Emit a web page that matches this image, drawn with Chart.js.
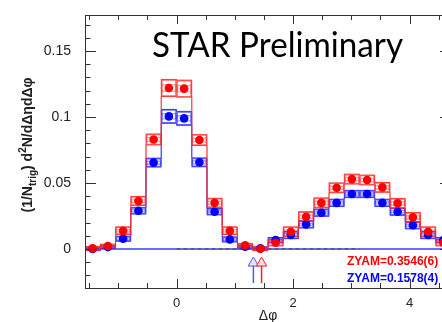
<!DOCTYPE html>
<html>
<head>
<meta charset="utf-8">
<script src="https://cdn.jsdelivr.net/npm/chart.js@4.4.1/dist/chart.umd.min.js"></script>
<style>
  html, body { margin: 0; padding: 0; overflow: hidden; background: #fff; }
  #wrap { position: relative; width: 470px; height: 322px; }
</style>
</head>
<body>
<div id="wrap"><canvas id="chart" width="470" height="322"></canvas></div>
<script>
// delta-phi bin centres, 24 bins of pi/12 from -pi/2 to 3pi/2
const binCenters = [-1.440, -1.178, -0.916, -0.654, -0.393, -0.131, 0.131, 0.393, 0.654, 0.916, 1.178, 1.440,
                    1.702, 1.963, 2.225, 2.487, 2.749, 3.011, 3.272, 3.534, 3.796, 4.058, 4.320, 4.581];
const binWidth = 0.2618;

const redValues = [0.0005, 0.0023, 0.0139, 0.0364, 0.0830, 0.1220, 0.1215, 0.0826, 0.0350, 0.0139, 0.0028, 0.0002,
                   0.0048, 0.0131, 0.0245, 0.0350, 0.0464, 0.0530, 0.0523, 0.0467, 0.0346, 0.0240, 0.0131, 0.0048];
const blueValues = [0.0000, 0.0015, 0.0078, 0.0290, 0.0655, 0.1005, 0.0990, 0.0657, 0.0283, 0.0073, 0.0018, 0.0005,
                    0.0068, 0.0106, 0.0187, 0.0275, 0.0350, 0.0417, 0.0417, 0.0350, 0.0283, 0.0180, 0.0106, 0.0068];
// systematic half-heights (boxes)
const redSys = [0.0015, 0.0015, 0.0030, 0.0035, 0.0042, 0.0065, 0.0065, 0.0042, 0.0035, 0.0030, 0.0015, 0.0015,
                0.0025, 0.0038, 0.0038, 0.0038, 0.0038, 0.0038, 0.0038, 0.0038, 0.0038, 0.0038, 0.0038, 0.0025];
const blueSys = [0.0012, 0.0012, 0.0020, 0.0025, 0.0034, 0.0053, 0.0053, 0.0034, 0.0025, 0.0020, 0.0012, 0.0012,
                 0.0020, 0.0028, 0.0028, 0.0028, 0.0028, 0.0028, 0.0028, 0.0028, 0.0028, 0.0028, 0.0028, 0.0020];

const zyamLabels = ['ZYAM=0.3546(6)', 'ZYAM=0.1578(4)'];
const arrowX = [1.46, 1.32];          // red, blue ZYAM range markers
const arrowShaft = [-0.0129, -0.0258];
const arrowHead = -0.0106;
const dashedRange = [0, 3.14];

const xMin = -1.5708, xMax = 4.7124;
const yMin = -0.0295, yMax = 0.1773;

const edges = binCenters.map(c => c - binWidth / 2).concat([binCenters[binCenters.length - 1] + binWidth / 2]);

function boxes(vals, sys, k) {
    return binCenters.map((c, i) => ({ x: c, y: [vals[i] - sys[i] * k, vals[i] + sys[i] * k] }));
}
// step outline: point at edge i carries bin i, held until edge i+1 ('before' stepping)
function steps(vals, sys, sign) {
    return edges.map((e, i) => {
        const j = Math.min(i, vals.length - 1);
        return { x: e, y: vals[j] + sign * sys[j] };
    });
}
function points(vals) {
    return binCenters.map((c, i) => ({ x: c, y: vals[i] }));
}

const RED = '#ff0000', BLUE = '#0000ff';
const RED_BOX = 'rgba(255,40,40,0.7)', BLUE_BOX = 'rgba(40,40,255,0.7)';

function boxSet(data, color, order) {
    return {
        type: 'bar', data: data, backgroundColor: 'rgba(0,0,0,0)', borderColor: color,
        borderWidth: 1, borderSkipped: false, grouped: false,
        barPercentage: 1, categoryPercentage: 1, order: order
    };
}
function stepSet(data, color, order) {
    return {
        type: 'line', data: data, borderColor: color, borderWidth: 1, stepped: 'before',
        pointRadius: 0, fill: false, order: order
    };
}

const datasets = [
    { type: 'line', data: points(redValues), showLine: false, pointRadius: 4.3, pointBackgroundColor: RED,
      pointBorderColor: RED, pointBorderWidth: 0, order: 0 },
    { type: 'line', data: points(blueValues), showLine: false, pointRadius: 4.3, pointBackgroundColor: BLUE,
      pointBorderColor: BLUE, pointBorderWidth: 0, order: 1 },
    boxSet(boxes(redValues, redSys, 1), RED_BOX, 3),
    boxSet(boxes(redValues, redSys, 0.45), 'rgba(255,40,40,0.4)', 3),
    stepSet(steps(redValues, redSys, 1), RED_BOX, 3),
    stepSet(steps(redValues, redSys, -1), RED_BOX, 3),
    boxSet(boxes(blueValues, blueSys, 1), BLUE_BOX, 4),
    boxSet(boxes(blueValues, blueSys, 0.45), 'rgba(40,40,255,0.4)', 4),
    stepSet(steps(blueValues, blueSys, 1), BLUE_BOX, 4),
    stepSet(steps(blueValues, blueSys, -1), BLUE_BOX, 4),
    { type: 'line', data: dashedRange.map(v => ({ x: v, y: 0 })), borderColor: '#444', borderWidth: 1,
      borderDash: [4, 3], pointRadius: 0, order: 5 },
    { type: 'line', data: [{ x: xMin, y: 0 }, { x: xMax, y: 0 }], borderColor: '#3d3dff', borderWidth: 1.5,
      pointRadius: 0, order: 6 }
];

// ZYAM arrows
arrowX.forEach((ax, i) => {
    const col = i === 0 ? '#ff2020' : '#5555ff';
    const fillCol = i === 0 ? 'rgba(255,215,215,0.9)' : 'rgba(225,225,255,0.9)';
    datasets.push({ type: 'line', data: arrowShaft.map(v => ({ x: ax, y: v })), borderColor: col,
        borderWidth: 1.5, pointRadius: 0, order: 2 });
    datasets.push({ type: 'line', data: [{ x: ax, y: arrowHead }], showLine: false, pointStyle: 'triangle',
        pointRadius: 6, pointBackgroundColor: fillCol, pointBorderColor: col, pointBorderWidth: 1, order: 2 });
});

const decorations = {
    id: 'decorations',
    afterDatasetsDraw(chart) {
        const { ctx, chartArea: a, scales: { x, y } } = chart;
        ctx.save();
        // frame + inward ticks (ROOT style)
        ctx.strokeStyle = '#333';
        ctx.lineWidth = 1;
        ctx.strokeRect(a.left + 0.5, a.top + 0.5, a.right - a.left, a.bottom - a.top);
        ctx.beginPath();
        x.ticks.forEach(t => {
            const px = Math.round(x.getPixelForValue(t.value)) + 0.5;
            const len = t.label ? 9 : 5;
            ctx.moveTo(px, a.bottom); ctx.lineTo(px, a.bottom - len);
            ctx.moveTo(px, a.top); ctx.lineTo(px, a.top + len);
        });
        y.ticks.forEach(t => {
            const py = Math.round(y.getPixelForValue(t.value)) + 0.5;
            const len = t.label ? 11 : 5.5;
            ctx.moveTo(a.left, py); ctx.lineTo(a.left + len, py);
            ctx.moveTo(a.right, py); ctx.lineTo(a.right - len, py);
        });
        ctx.stroke();

        // ZYAM labels
        ctx.font = 'bold 12px "Liberation Sans", Arial, sans-serif';
        ctx.textBaseline = 'alphabetic';
        ctx.textAlign = 'left';
        ctx.fillStyle = RED;
        ctx.fillText(zyamLabels[0], 347, 265);
        ctx.fillStyle = BLUE;
        ctx.fillText(zyamLabels[1], 347, 281.5);

        // STAR Preliminary
        ctx.font = '34px Lato, "Open Sans", sans-serif';
        ctx.fillStyle = '#000';
        const s = 'STAR Preliminary';
        const w = ctx.measureText(s).width;
        ctx.translate(152, 57);
        ctx.scale(251 / w, 1);
        ctx.fillText(s, 0, 0);
        ctx.restore();

        // axis titles
        ctx.save();
        ctx.fillStyle = '#222';
        ctx.font = '14px "Liberation Sans", Arial, sans-serif';
        ctx.textAlign = 'center';
        ctx.textBaseline = 'middle';
        ctx.fillText('\u0394\u03c6', 268, 316);

        const big = 'bold 14px "Liberation Sans", Arial, sans-serif';
        const small = 'bold 10px "Liberation Sans", Arial, sans-serif';
        const parts = [
            { t: '(1/N', f: big, dy: 0 },
            { t: 'trig', f: small, dy: 4 },
            { t: ') d', f: big, dy: 0 },
            { t: '2', f: small, dy: -6 },
            { t: 'N/d\u0394\u03b7d\u0394\u03c6', f: big, dy: 0 }
        ];
        ctx.textAlign = 'left';
        ctx.textBaseline = 'alphabetic';
        let total = 0;
        parts.forEach(p => { ctx.font = p.f; p.w = ctx.measureText(p.t).width; total += p.w; });
        ctx.translate(27, 145);
        ctx.rotate(-Math.PI / 2);
        let pos = -total / 2;
        parts.forEach(p => { ctx.font = p.f; ctx.fillText(p.t, pos, 5 + p.dy); pos += p.w; });
        ctx.restore();
    }
};

new Chart(document.getElementById('chart'), {
    type: 'line',
    data: { datasets: datasets },
    plugins: [decorations],
    options: {
        responsive: false,
        animation: false,
        layout: { padding: { top: 15, right: 19, left: 0, bottom: 0 } },
        plugins: { legend: { display: false }, tooltip: { enabled: false } },
        scales: {
            x: {
                type: 'linear', min: xMin, max: xMax, offset: false,
                grid: { display: false }, border: { display: false },
                ticks: {
                    stepSize: 0.5, includeBounds: false, autoSkip: false, maxRotation: 0, padding: 0,
                    color: '#222', font: { family: '"Liberation Sans", Arial, sans-serif', size: 13 },
                    callback: v => (Math.abs(v / 2 - Math.round(v / 2)) < 1e-6 ? String(Math.round(v)) : '')
                },
                afterFit: s => { s.height = 34; }
            },
            y: {
                type: 'linear', min: yMin, max: yMax,
                grid: { display: false }, border: { display: false },
                ticks: {
                    stepSize: 0.01, includeBounds: false, autoSkip: false, padding: 6,
                    color: '#222', font: { family: '"Liberation Sans", Arial, sans-serif', size: 14 },
                    callback: v => {
                        const k = Math.round(v / 0.05);
                        if (Math.abs(v - k * 0.05) > 1e-6) return '';
                        return String(Math.round(k * 0.05 * 100) / 100);
                    }
                },
                afterFit: s => { s.width = 85; }
            }
        }
    }
});
</script>
</body>
</html>
